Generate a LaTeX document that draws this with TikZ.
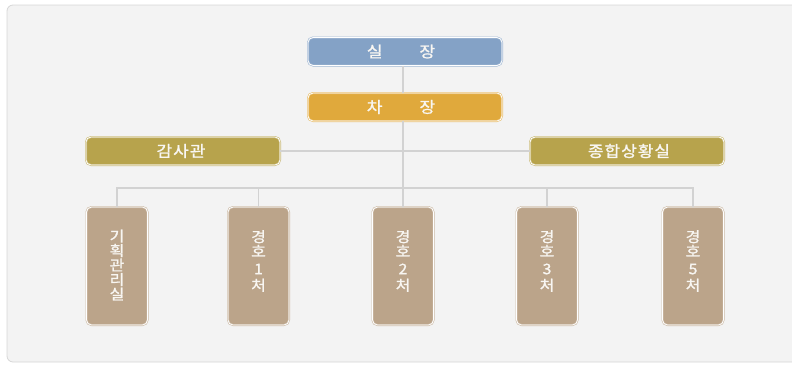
\documentclass[tikz,border=0pt]{standalone}
\usepackage{fontspec}
\newfontfamily\kr[FakeStretch=1.1,FakeBold=1.2]{Noto Sans CJK KR}
\newfontfamily\krs[FakeStretch=1.1,FakeBold=1.2,LetterSpace=6]{Noto Sans CJK KR}
\definecolor{bgfill}{HTML}{F3F3F3}
\definecolor{bgline}{HTML}{D6D6D6}
\definecolor{conn}{HTML}{D2D2D2}
\definecolor{cblue}{HTML}{84A2C6}
\definecolor{corange}{HTML}{E0A93C}
\definecolor{colive}{HTML}{B7A34C}
\definecolor{ctan}{HTML}{BBA48A}
\definecolor{ttext}{HTML}{F8F6F2}
\begin{document}
\begin{tikzpicture}[x=1pt,y=-1pt,
  orgbox/.style={rounded corners=5pt, fill=#1, draw=#1!75!white, double=white,
    double distance=0.8pt, line width=0.6pt, inner sep=0pt, text=white},
  wide/.style={minimum width=194pt, minimum height=28pt},
  tall/.style={minimum width=61pt, minimum height=118pt},
  wtext/.style={text=ttext, font=\kr\fontsize{15.5}{16}\selectfont, inner sep=0pt},
  vtext/.style={text=ttext, font=\kr\fontsize{14.5}{14.5}\selectfont, align=center, inner sep=0pt},
  link/.style={draw=conn, line width=1.1pt}]
\useasboundingbox (0,0) rectangle (792,365);
\path[fill=bgfill, draw=bgline, line width=0.8pt, rounded corners=6pt]
  (7,5) rectangle (800,362);
% boxes
\node[orgbox=cblue, wide] (silj) at (405,51.5) {};
\node[orgbox=corange, wide] (chaj) at (405,107) {};
\node[orgbox=colive, wide] (gams) at (183,151) {};
\node[orgbox=colive, wide] (jong) at (627,151) {};
\node[orgbox=ctan, tall] (b1) at (117,266) {};
\node[orgbox=ctan, tall] (b2) at (258.5,266) {};
\node[orgbox=ctan, tall] (b3) at (403,266) {};
\node[orgbox=ctan, tall] (b4) at (547,266) {};
\node[orgbox=ctan, tall] (b5) at (693,266) {};
% connectors
\coordinate (bus) at (0,188);
\draw[link] (silj.south -| b3.north) -- (chaj.north -| b3.north);
\draw[link] (chaj.south -| b3.north) -- (b3.north);
\draw[link] (gams.east) -- (jong.west);
\draw[link] (b1.north) -- (b1.north |- bus) -- (b5.north |- bus) -- (b5.north);
\draw[link] (b2.north) -- (b2.north |- bus);
\draw[link] (b4.north) -- (b4.north |- bus);
% texts
\node[wtext] (tsilj) at (401,51.5) {실\hspace{37pt}장};
\node[wtext] (tchaj) at (401,107) {차\hspace{37pt}장};
\node[wtext] (tgams) at (181,151) {\krs 감사관\hspace{-1pt}};
\node[wtext] (tjong) at (629,151) {\krs 종합상황실\hspace{-1pt}};
\node[vtext] (t1) at (117,265) {기\\획\\관\\리\\실};
\node[vtext] (t2) at (258.5,261) {경\\호\\[3pt]1\\[2pt]처};
\node[vtext] (t3) at (403,261) {경\\호\\[3pt]2\\[2pt]처};
\node[vtext] (t4) at (547,261) {경\\호\\[3pt]3\\[2pt]처};
\node[vtext] (t5) at (693,261) {경\\호\\[3pt]5\\[2pt]처};
\end{tikzpicture}
\end{document}
